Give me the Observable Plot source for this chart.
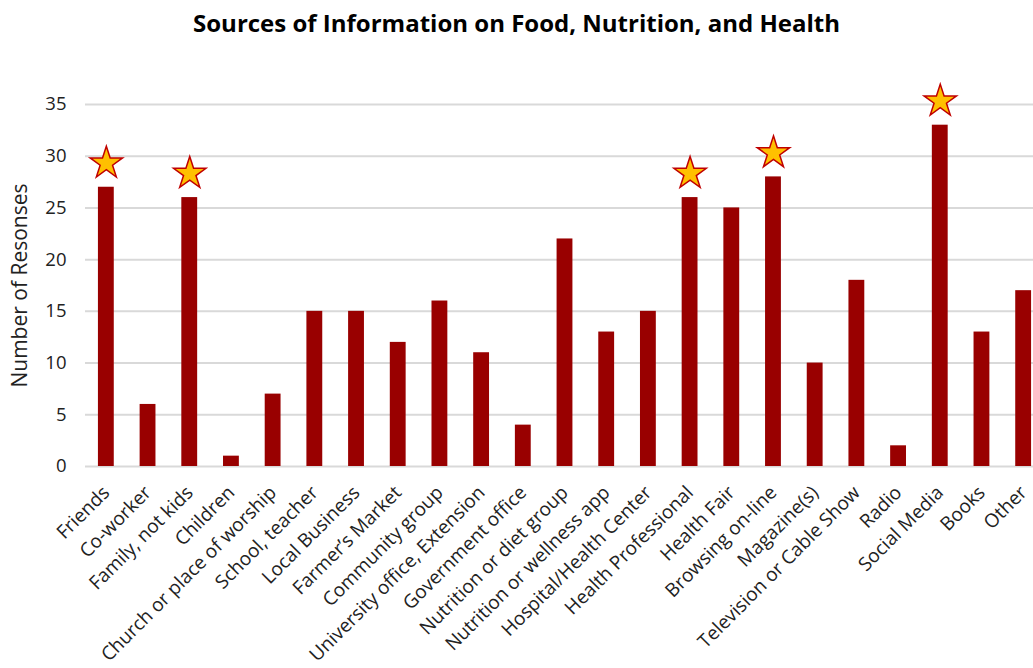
<!DOCTYPE html>
<html>
<head>
<meta charset="utf-8">
<script src="https://cdn.jsdelivr.net/npm/d3@7"></script>
<script src="https://cdn.jsdelivr.net/npm/@observablehq/plot@0.6"></script>
<style>
  body { margin: 0; background: #fff; font-family: "Open Sans", sans-serif; }
  #title { height: 45px; line-height: 45px; text-align: center; font-weight: bold; font-size: 24px; color: #000; }
  #chart svg { display: block; }
</style>
</head>
<body>
<div id="title">Sources of Information on Food, Nutrition, and Health</div>
<div id="chart"></div>
<script>
const categories = [
  "Friends", "Co-worker", "Family, not kids", "Children", "Church or place of worship",
  "School, teacher", "Local Business", "Farmer’s Market", "Community group",
  "University office, Extension", "Government office", "Nutrition or diet group",
  "Nutrition or wellness app", "Hospital/Health Center", "Health Professional",
  "Health Fair", "Browsing on-line", "Magazine(s)", "Television or Cable Show",
  "Radio", "Social Media", "Books", "Other"
];
const responses = [27, 6, 26, 1, 7, 15, 15, 12, 16, 11, 4, 22, 13, 15, 26, 25, 28, 10, 18, 2, 33, 13, 17];
const starred = ["Friends", "Family, not kids", "Health Professional", "Browsing on-line", "Social Media"];
const yTicks = [0, 5, 10, 15, 20, 25, 30, 35];

const data = categories.map((c, i) => ({category: c, value: responses[i]}));
const stars = data.filter(d => starred.includes(d.category));

const chart = Plot.plot({
  width: 1033,
  height: 623,
  marginTop: 59,
  marginBottom: 202,
  marginLeft: 85,
  marginRight: -11,
  style: {fontFamily: "'Open Sans', sans-serif", fontSize: "18px", color: "#222"},
  x: {domain: categories, paddingInner: 0.62, paddingOuter: 0.31, round: false, label: null},
  y: {domain: [0, 35], label: null},
  marks: [
    Plot.ruleY(yTicks, {stroke: "#d9d9d9", strokeWidth: 2}),
    Plot.barY(data, {x: "category", y: "value", fill: "#990000"}),
    Plot.dot(stars, {x: "category", y: "value", dy: -24, symbol: "star", r: 10.2, fill: "#FFC000", stroke: "#C00000", strokeWidth: 1.5}),
    Plot.axisY({ticks: yTicks, tickSize: 0, tickPadding: 19, fontSize: 18.5, label: null}),
    Plot.axisX({tickSize: 0, tickRotate: -45, tickPadding: 23, fontSize: 19, label: null}),
    Plot.text(["Number of Resonses"], {frameAnchor: "left", textAnchor: "middle", dx: -65, dy: 0, rotate: -90, fontSize: 21, fill: "#222"})
  ]
});
document.getElementById("chart").appendChild(chart);
</script>
</body>
</html>
